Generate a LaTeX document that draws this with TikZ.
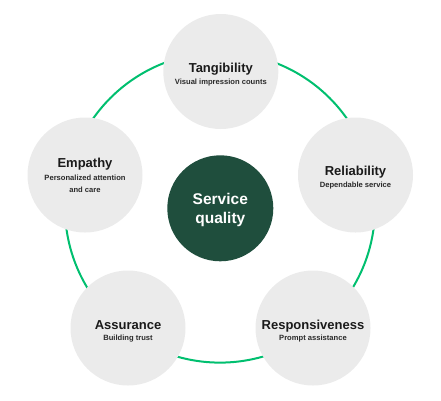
\documentclass[tikz,border=0pt]{standalone}
\usepackage{fontspec}
\setmainfont{Liberation Sans}
\definecolor{bubble}{HTML}{EBEBEB}
\definecolor{core}{HTML}{1F4E3D}
\definecolor{ring}{HTML}{00BF6F}
\definecolor{ink}{HTML}{1A1A1A}
\definecolor{subink}{HTML}{2A2A2A}
\tikzset{
  bubble/.style={circle, fill=bubble, draw=none, minimum size=115pt, inner sep=0pt},
  corebubble/.style={circle, fill=core, draw=none, minimum size=106pt, inner sep=0pt},
  ttl/.style={anchor=base, inner sep=0pt, text=ink, font=\fontsize{13}{15}\selectfont\bfseries},
  sub/.style={anchor=base, inner sep=0pt, text=subink, font=\fontsize{7.6}{12}\selectfont\bfseries},
  coretxt/.style={anchor=base, inner sep=0pt, text=white, font=\fontsize{15.5}{18}\selectfont\bfseries},
  ringline/.style={draw=ring, line width=2pt}
}
\begin{document}
\begin{tikzpicture}[x=1pt,y=-1pt]
\useasboundingbox (0,0) rectangle (441,400);
\coordinate (ringc) at (220,207.6);
\draw[ringline] (ringc) circle[radius=155];
\node[bubble] (tan) at (220.8,71.5) {};
\node[bubble] (rel) at (355.5,175) {};
\node[bubble] (res) at (313,328) {};
\node[bubble] (ass) at (128,328) {};
\node[bubble] (emp) at (85,175) {};
\node[corebubble] (sq) at (220.3,208.3) {};
% texts
\node[ttl] (tanT) at (220.8,72.7) {Tangibility};
\node[sub] (tanS) at (220.8,84.2) {Visual impression counts};
\node[ttl] (relT) at (355.5,175.8) {Reliability};
\node[sub] (relS) at (355.5,187.3) {Dependable service};
\node[ttl] (resT) at (313,329) {Responsiveness};
\node[sub] (resS) at (313,340.8) {Prompt assistance};
\node[ttl] (assT) at (128,329) {Assurance};
\node[sub] (assS) at (128,340.8) {Building trust};
\node[ttl] (empT) at (85,167.3) {Empathy};
\node[sub] (empS1) at (85,180.3) {Personalized attention};
\node[sub] (empS2) at (85,192.3) {and care};
\node[coretxt] (sqT1) at (220.3,204.8) {Service};
\node[coretxt] (sqT2) at (220.3,223.9) {quality};
\end{tikzpicture}
\end{document}
